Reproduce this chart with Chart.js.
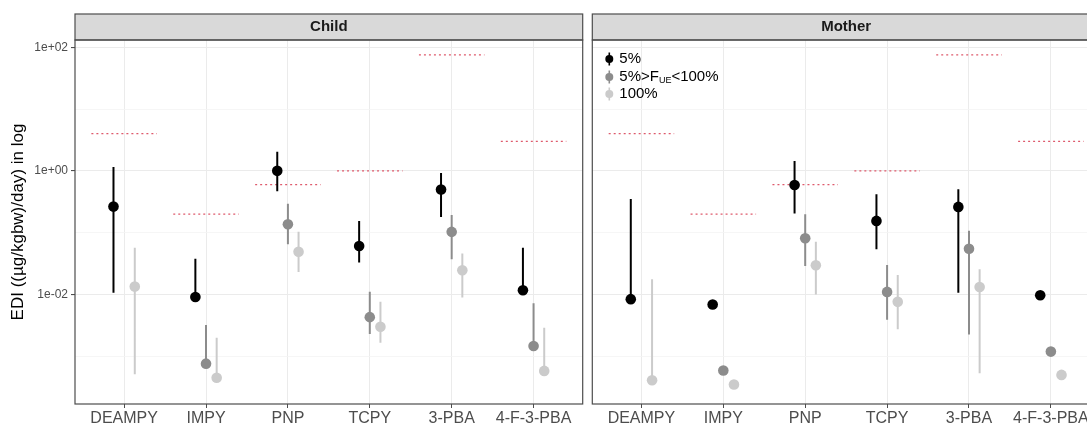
<!DOCTYPE html>
<html>
<head>
<meta charset="utf-8">
<script src="https://cdn.jsdelivr.net/npm/chart.js@4.4.1/dist/chart.umd.min.js"></script>
<style>
  html, body { margin: 0; padding: 0; background: #fff; overflow: hidden; width: 1087px; height: 425px; }
  #wrap { position: relative; width: 1087px; height: 425px; overflow: hidden; }
  #child { position: absolute; left: 0; top: 0; }
  #mother { position: absolute; left: 587px; top: 0; }
</style>
</head>
<body>
<div id="wrap">
  <canvas id="child" width="588" height="425"></canvas>
  <canvas id="mother" width="520" height="425"></canvas>
</div>
<script>
// Metabolites on the x axis
const categories = ['DEAMPY', 'IMPY', 'PNP', 'TCPY', '3-PBA', '4-F-3-PBA'];

// Reference dose per metabolite (dotted red segments)
const referenceLevels = [4, 0.2, 0.6, 1, 75, 3];

// Each entry: [estimate, lower, upper]; null where the group is absent
const childP5 = [[0.264, 0.0107, 1.16], [0.0091, 0.0091, 0.038], [1.0, 0.47, 2.03],
                 [0.061, 0.033, 0.155], [0.50, 0.18, 0.92], [0.0117, 0.0117, 0.057]];
const childMid = [null, [0.00076, 0.00076, 0.0032], [0.137, 0.065, 0.295],
                  [0.0043, 0.0023, 0.0111], [0.103, 0.037, 0.194], [0.00147, 0.00147, 0.0072]];
const childAll = [[0.0134, 0.00051, 0.057], [0.00045, 0.00045, 0.0020], [0.049, 0.0231, 0.103],
                  [0.0030, 0.00166, 0.0076], [0.0247, 0.0089, 0.046], [0.00058, 0.00058, 0.0029]];

const motherP5 = [[0.0084, 0.0084, 0.352], [0.0069, null, null], [0.59, 0.204, 1.45],
                  [0.155, 0.054, 0.42], [0.261, 0.0107, 0.505], [0.0097, null, null]];
const motherMid = [null, [0.00059, null, null], [0.081, 0.029, 0.199],
                   [0.011, 0.0039, 0.030], [0.055, 0.00226, 0.107], [0.00119, null, null]];
const motherAll = [[0.00041, 0.00041, 0.0176], [0.00035, null, null], [0.0297, 0.0100, 0.0716],
                   [0.0076, 0.00274, 0.0207], [0.0132, 0.00053, 0.0256], [0.00050, null, null]];

// Legend entries (the middle one carries a subscript)
const seriesLabels = ['5%', ['5%>F', 'UE', '<100%'], '100%'];
const seriesColors = ['#000000', '#8c8c8c', '#cbcbcb'];
const dodgeOffsets = [-0.13, 0, 0.13];

// Log axis: labelled decades and the in-between grid decades
const yMajorValues = [1e-2, 1, 1e2];
const yMajorLabels = ['1e-02', '1e+00', '1e+02'];
const yMinorValues = [1e-3, 1e-1, 1e1];
const yMin = 1.69e-4;
const yMax = 131;

Chart.defaults.font.family = "'Liberation Sans', Arial, sans-serif";

const decade = v => Math.round(Math.log10(v));
const isMajor = v => yMajorValues.some(m => decade(m) === decade(v));

function rangeData(rows, offset) {
  const out = [];
  rows.forEach((r, i) => {
    if (!r || r[1] == null || r[2] == null) return;
    const x = i + 1 + offset;
    out.push({ x, y: r[1] }, { x, y: r[2] }, { x, y: null });
  });
  return out;
}
function pointData(rows, offset) {
  const out = [];
  rows.forEach((r, i) => { if (r) out.push({ x: i + 1 + offset, y: r[0] }); });
  return out;
}
function referenceData() {
  const out = [];
  referenceLevels.forEach((v, i) => {
    out.push({ x: i + 0.6, y: v }, { x: i + 1.4, y: v }, { x: i + 1.4, y: null });
  });
  return out;
}

// Facet strip and panel frame
const panelFrame = {
  id: 'panelFrame',
  afterDraw(chart, args, opts) {
    const { ctx, chartArea: a } = chart;
    ctx.save();
    ctx.fillStyle = '#d9d9d9';
    ctx.fillRect(a.left, 14, a.right - a.left, a.top - 14);
    ctx.strokeStyle = '#4d4d4d';
    ctx.lineWidth = 1.2;
    ctx.strokeRect(a.left, 14, a.right - a.left, a.top - 14);
    ctx.strokeRect(a.left, a.top, a.right - a.left, a.bottom - a.top);
    ctx.fillStyle = '#1a1a1a';
    ctx.font = "bold 15px 'Liberation Sans', Arial, sans-serif";
    ctx.textAlign = 'center';
    ctx.textBaseline = 'middle';
    ctx.fillText(opts.title, (a.left + a.right) / 2, 27);
    ctx.restore();
  }
};

// Legend placed inside the top-left corner of a panel
const insideLegend = {
  id: 'insideLegend',
  afterDraw(chart, args, opts) {
    if (!opts.show) return;
    const { ctx, chartArea: a } = chart;
    const kx = a.left + 17, tx = a.left + 27;
    const rows = [59, 77, 94];
    ctx.save();
    ctx.textBaseline = 'middle';
    ctx.textAlign = 'left';
    seriesLabels.forEach((lab, i) => {
      const y = rows[i];
      ctx.strokeStyle = seriesColors[i];
      ctx.fillStyle = seriesColors[i];
      ctx.lineWidth = 1.6;
      ctx.beginPath();
      ctx.moveTo(kx, y - 6.5);
      ctx.lineTo(kx, y + 6.5);
      ctx.stroke();
      ctx.beginPath();
      ctx.arc(kx, y, 4, 0, Math.PI * 2);
      ctx.fill();
      ctx.fillStyle = '#000';
      const big = "15px 'Liberation Sans', Arial, sans-serif";
      const small = "9px 'Liberation Sans', Arial, sans-serif";
      if (Array.isArray(lab)) {
        let x = tx;
        ctx.font = big; ctx.fillText(lab[0], x, y); x += ctx.measureText(lab[0]).width;
        ctx.font = small; ctx.fillText(lab[1], x, y + 4); x += ctx.measureText(lab[1]).width;
        ctx.font = big; ctx.fillText(lab[2], x, y);
      } else {
        ctx.font = big;
        ctx.fillText(lab, tx, y);
      }
    });
    ctx.restore();
  }
};

function buildChart(id, groups, opts) {
  const datasets = [{
    data: referenceData(),
    showLine: true, spanGaps: false,
    borderColor: '#de5a6c', borderWidth: 1.3, borderDash: [2, 3],
    pointRadius: 0, order: 5
  }];
  groups.forEach((rows, k) => {
    datasets.push({
      data: rangeData(rows, dodgeOffsets[k]),
      showLine: true, spanGaps: false,
      borderColor: seriesColors[k], borderWidth: 2,
      pointRadius: 0, order: 4 - k * 0.1
    });
  });
  groups.forEach((rows, k) => {
    datasets.push({
      data: pointData(rows, dodgeOffsets[k]),
      backgroundColor: seriesColors[k], borderWidth: 0,
      pointRadius: 5.3, pointHoverRadius: 5.3, order: 2 - k * 0.1
    });
  });

  return new Chart(document.getElementById(id), {
    type: 'scatter',
    data: { datasets },
    plugins: [panelFrame, insideLegend],
    options: {
      responsive: false, animation: false, devicePixelRatio: 1, events: [],
      layout: { padding: opts.padding },
      plugins: {
        legend: { display: false }, tooltip: { enabled: false },
        panelFrame: { title: opts.title },
        insideLegend: { show: opts.legend }
      },
      scales: {
        x: {
          type: 'linear', min: 0.4, max: 6.6,
          afterBuildTicks: s => { s.ticks = categories.map((c, i) => ({ value: i + 1 })); },
          afterFit: s => { s.height = 21; },
          ticks: {
            callback: v => categories[Math.round(v) - 1] || '',
            color: '#4d4d4d', font: { size: 16 }, padding: 1,
            autoSkip: false, maxRotation: 0, minRotation: 0
          },
          grid: { color: '#ebebeb', lineWidth: 1, tickColor: '#4d4d4d', tickLength: 4 },
          border: { display: false }
        },
        y: {
          type: 'logarithmic', min: yMin, max: yMax,
          afterBuildTicks: s => {
            s.ticks = [...yMajorValues, ...yMinorValues].sort((a, b) => a - b).map(v => ({ value: v }));
          },
          afterFit: s => { s.width = opts.yWidth; },
          ticks: {
            display: opts.yLabels,
            callback: v => {
              const j = yMajorValues.findIndex(m => decade(m) === decade(v));
              return j >= 0 ? yMajorLabels[j] : '';
            },
            color: '#4d4d4d', font: { size: 12 }, padding: 3, autoSkip: false
          },
          grid: {
            color: c => isMajor(c.tick.value) ? '#ebebeb' : '#f4f4f4',
            lineWidth: c => isMajor(c.tick.value) ? 1.1 : 0.8,
            drawTicks: opts.yLabels,
            tickColor: c => isMajor(c.tick.value) ? '#4d4d4d' : 'rgba(0,0,0,0)',
            tickLength: 4
          },
          border: { display: false },
          title: {
            display: opts.yLabels, text: 'EDI ((µg/kgbw)/day) in log',
            color: '#000', font: { size: 17 }, padding: { top: 8, bottom: 0 }
          }
        }
      }
    }
  });
}

buildChart('child', [childP5, childMid, childAll],
  { title: 'Child', legend: false, yLabels: true, yWidth: 75, padding: { top: 40, right: 3, left: 0, bottom: 0 } });
buildChart('mother', [motherP5, motherMid, motherAll],
  { title: 'Mother', legend: true, yLabels: false, yWidth: 0, padding: { top: 40, right: 7, left: 3, bottom: 0 } });
</script>
</body>
</html>
